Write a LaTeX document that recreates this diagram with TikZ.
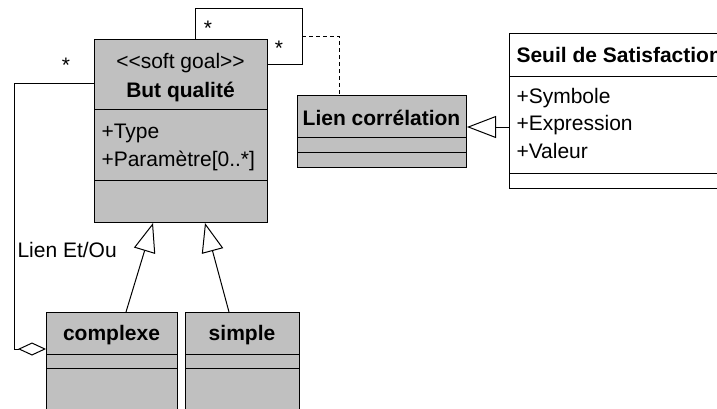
\documentclass[tikz,border=0pt]{standalone}
\usepackage{fontspec}
\setmainfont{Liberation Sans}[Ligatures=TeXOff]
\usetikzlibrary{arrows.meta,positioning}
\definecolor{umlgray}{RGB}{192,192,192}

\begin{document}
\begin{tikzpicture}[x=1pt,y=-1pt,line width=1pt]
        \tikzstyle{cls}=[draw=black,fill=umlgray,anchor=north west,inner sep=0pt]
        \tikzstyle{txt}=[font=\fontsize{21}{27.5}\selectfont,inner sep=0pt]
        \tikzstyle{ttl}=[font=\fontsize{21}{27.5}\selectfont\bfseries,inner sep=0pt]
        \tikzstyle{gen}=[-{Triangle[open,length=29pt,width=22pt]}]
        \tikzstyle{agg}=[-{Diamond[open,length=28pt,width=13pt]}]

        \useasboundingbox (0,0) rectangle (717,408);
        \clip (0,0) rectangle (717,408);

        % classes
        \node[cls,minimum width=173pt,minimum height=183pt](but) at (94,39) {};
        \node[txt,anchor=base](butst) at (180.5,68) {<<soft goal>>};
        \node[ttl,anchor=base](butname) at (180.5,97) {But qualité};
        \node[txt,anchor=base west](type) at (101,138) {+Type};
        \node[txt,anchor=base west](param) at (101,166) {+Paramètre[0..*]};
        \draw (but.west |- 0,109) -- (but.east |- 0,109);
        \draw (but.west |- 0,180) -- (but.east |- 0,180);

        \node[cls,minimum width=169pt,minimum height=72pt](lien) at (297,95) {};
        \node[ttl,anchor=base](lienname) at (381.5,125) {Lien corrélation};
        \draw (lien.west |- 0,137) -- (lien.east |- 0,137);
        \draw (lien.west |- 0,152) -- (lien.east |- 0,152);

        \node[cls,fill=white,minimum width=230pt,minimum height=155pt](seuil) at (509,33) {};
        \node[ttl,anchor=base west](seuilname) at (516,62) {Seuil de Satisfaction};
        \node[txt,anchor=base west](sym) at (516,103) {+Symbole};
        \node[txt,anchor=base west](expr) at (516,130.5) {+Expression};
        \node[txt,anchor=base west](val) at (516,158) {+Valeur};
        \draw (seuil.west |- 0,76) -- (seuil.east |- 0,76);
        \draw (seuil.west |- 0,173) -- (seuil.east |- 0,173);

        \node[cls,minimum width=131pt,minimum height=120pt](complexe) at (46,312) {};
        \node[ttl,anchor=base](cname) at (111.5,340) {complexe};
        \draw (complexe.west |- 0,354) -- (complexe.east |- 0,354);
        \draw (complexe.west |- 0,368) -- (complexe.east |- 0,368);

        \node[cls,minimum width=114pt,minimum height=120pt](simple) at (185,312) {};
        \node[ttl,anchor=base](sname) at (242,340) {simple};
        \draw (simple.west |- 0,354) -- (simple.east |- 0,354);
        \draw (simple.west |- 0,368) -- (simple.east |- 0,368);

        % links
        \coordinate (loopNE) at (302,8);
        \coordinate (loopSE) at (302,64);
        \coordinate (loopM) at (302,36);
        \coordinate (aggL) at (14,349);
        \draw ([xshift=101pt]but.north west) |- (loopNE) -- (loopSE) -- (loopSE -| but.east);
        \draw[dash pattern=on 4pt off 3pt] (loopM) -| ([xshift=42pt]lien.north west);
        \draw[gen] (seuil.west |- 0,127) -- (lien.east |- 0,127);
        \draw[gen] ([xshift=80pt]complexe.north west) -- ([xshift=59pt]but.south west);
        \draw[gen] ([xshift=44pt]simple.north west) -- ([xshift=111pt]but.south west);
        \draw[agg] ([yshift=-44pt]but.north west) -| (aggL) -- ([yshift=-37pt]complexe.north west);

        \node[txt,anchor=base](m1) at (66,72) {*};
        \node[txt,anchor=base](m2) at (208,35) {*};
        \node[txt,anchor=base](m3) at (279,55) {*};
        \node[txt,anchor=base west](etou) at (17,257) {Lien Et/Ou};
\end{tikzpicture}
\end{document}
